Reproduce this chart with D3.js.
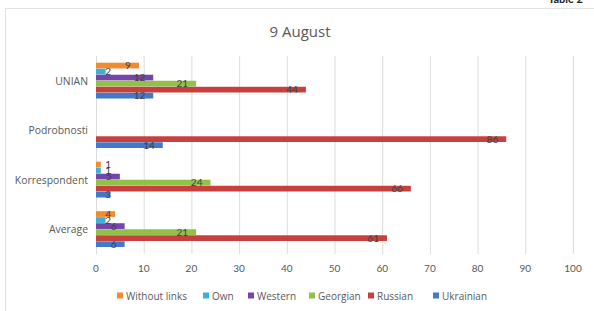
<!DOCTYPE html>
<html>
<head>
<meta charset="utf-8">
<script src="https://cdn.jsdelivr.net/npm/d3@7"></script>
<style>
  body { margin: 0; background: #fff; }
  text { font-family: Lato, "Open Sans", sans-serif; }
  .wide { font-family: "Open Sans", sans-serif; }
</style>
</head>
<body>
<div id="chart"></div>
<script>
const categories = ["UNIAN", "Podrobnosti", "Korrespondent", "Average"];
const seriesNames = ["Without links", "Own", "Western", "Georgian", "Russian", "Ukrainian"];
const seriesColors = ["#F28A30", "#3FB0D4", "#7446AC", "#92C048", "#C8403D", "#4478C8"];
// values per category, in series order
const withoutLinks = [9, 0, 1, 4];
const own = [2, 0, 1, 2];
const western = [12, 0, 5, 6];
const georgian = [21, 0, 24, 21];
const russian = [44, 86, 66, 61];
const ukrainian = [12, 14, 3, 6];
const xTicks = [0, 10, 20, 30, 40, 50, 60, 70, 80, 90, 100];

const allSeries = [withoutLinks, own, western, georgian, russian, ukrainian];

const W = 594, H = 311;
const Margin = {TOP: 56, BOTTOM: 57, LEFT: 96, RIGHT: 21};

const svg = d3.select("#chart").append("svg")
  .attr("width", W).attr("height", H);

// outer frame
svg.append("rect")
  .attr("x", 5.5).attr("y", 8.5)
  .attr("width", 620).attr("height", 320)
  .attr("fill", "none").attr("stroke", "#e2e2e2");

svg.append("text")
  .attr("x", 583).attr("y", 3)
  .attr("text-anchor", "end")
  .attr("font-size", 11).attr("font-weight", "bold")
  .attr("fill", "#222")
  .text("Table 2");

svg.append("text").attr("class", "wide")
  .attr("x", 300).attr("y", 37)
  .attr("text-anchor", "middle")
  .attr("font-size", 15).attr("fill", "#595959")
  .text("9 August");

const x = d3.scaleLinear().domain([0, 100]).range([Margin.LEFT, W - Margin.RIGHT]);
const y = d3.scaleBand().domain(categories)
  .range([Margin.TOP, H - Margin.BOTTOM])
  .paddingInner(0.27).paddingOuter(0.135);
const ySub = d3.scaleBand().domain(seriesNames).range([0, y.bandwidth()]);

// grid
svg.append("g").selectAll("line").data(xTicks).enter().append("line")
  .attr("x1", d => x(d) + 0.5).attr("x2", d => x(d) + 0.5)
  .attr("y1", Margin.TOP).attr("y2", H - Margin.BOTTOM)
  .attr("stroke", "#dcdcdc");

// tick labels
svg.append("g").selectAll("text").data(xTicks).enter().append("text")
  .attr("x", d => x(d)).attr("y", 272)
  .attr("text-anchor", "middle")
  .attr("font-size", 10).attr("fill", "#595959")
  .text(d => d);

// category labels
svg.append("g").selectAll("text").data(categories).enter().append("text")
  .attr("class", "wide")
  .attr("x", 88).attr("y", d => y(d) + y.bandwidth() / 2 + 4)
  .attr("text-anchor", "end")
  .attr("font-size", 10.4).attr("fill", "#595959")
  .text(d => d);

const bars = [];
categories.forEach((c, ci) => {
  seriesNames.forEach((s, si) => {
    bars.push({cat: c, series: s, color: seriesColors[si], val: allSeries[si][ci]});
  });
});

const shown = bars.filter(d => d.val > 0);

svg.append("g").selectAll("rect").data(shown).enter().append("rect")
  .attr("x", x(0))
  .attr("y", d => y(d.cat) + ySub(d.series))
  .attr("width", d => x(d.val) - x(0))
  .attr("height", ySub.bandwidth() - 0.3)
  .attr("fill", d => d.color);

svg.append("g").selectAll("text").data(shown).enter().append("text")
  .attr("x", d => Math.max(x(d.val) - 8, x(0) + 15))
  .attr("y", d => y(d.cat) + ySub(d.series) + ySub.bandwidth() / 2 + 3.5)
  .attr("text-anchor", "end")
  .attr("font-size", 10).attr("fill", "#404040")
  .text(d => d.val);

// legend
const legendX = [117, 203, 248, 309, 368, 433];
const legend = svg.append("g").selectAll("g").data(seriesNames).enter().append("g")
  .attr("transform", (d, i) => `translate(${legendX[i]}, 296)`);
legend.append("rect")
  .attr("x", 0).attr("y", -3.5).attr("width", 6).attr("height", 6)
  .attr("fill", (d, i) => seriesColors[i]);
legend.append("text").attr("class", "wide")
  .attr("x", 9).attr("y", 3.5)
  .attr("font-size", 10).attr("fill", "#595959")
  .text(d => d);
</script>
</body>
</html>
